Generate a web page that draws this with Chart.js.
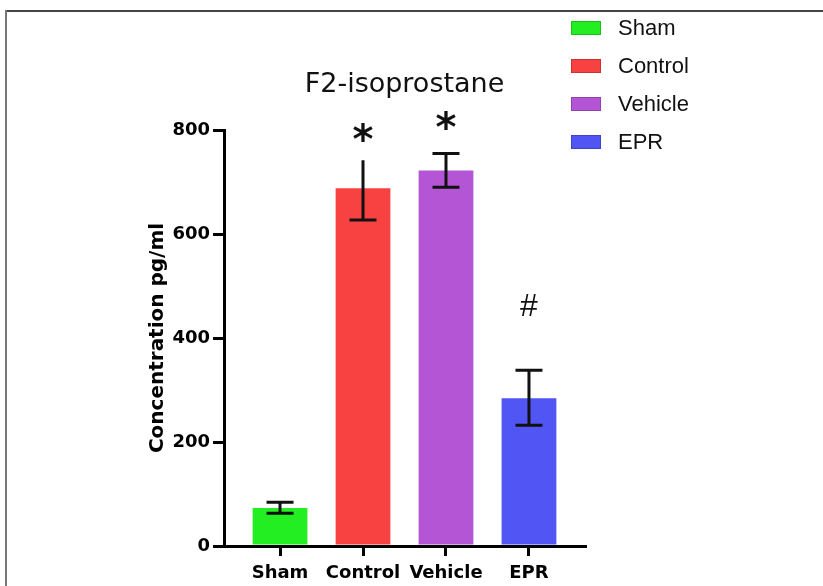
<!DOCTYPE html>
<html>
<head>
<meta charset="utf-8">
<script src="https://cdn.jsdelivr.net/npm/chart.js@4"></script>
<style>
  html, body { margin: 0; padding: 0; background: #fff; }
  #wrap { position: relative; width: 823px; height: 586px; }
</style>
</head>
<body>
<div id="wrap"><canvas id="isoChart" width="823" height="586"></canvas></div>
<script>
// data
const categories = ['Sham', 'Control', 'Vehicle', 'EPR'];
const means = [73, 688, 722, 284];
const errLow = [63, 627, 690, 232];
const errHigh = [84, 742, 755, 338];
const marks = ['', '*', '*', '#'];
const markAt = [null, 796, 819, 463];
const yTicks = [0, 200, 400, 600, 800];
const barColors = ['#22ee22', '#f84242', '#b455d6', '#5055f4'];

// thin frame round the figure (top + left edge only)
const frame = {
    id: 'frame',
    beforeDraw(chart) {
        const c = chart.ctx;
        c.save();
        c.fillStyle = '#fff';
        c.fillRect(0, 0, chart.width, chart.height);
        c.lineWidth = 2;
        c.strokeStyle = '#444';
        c.beginPath();
        c.moveTo(5, 11);
        c.lineTo(chart.width, 11);
        c.stroke();
        c.strokeStyle = '#777';
        c.beginPath();
        c.moveTo(6, 10);
        c.lineTo(6, chart.height);
        c.stroke();
        c.restore();
    }
};

// SEM whiskers, Control has no top cap in the original
const errorBars = {
    id: 'errorBars',
    afterDatasetsDraw(chart) {
        const c = chart.ctx;
        const ys = chart.scales.y;
        const meta = chart.getDatasetMeta(0);
        c.save();
        c.strokeStyle = '#111';
        c.lineWidth = 3;
        meta.data.forEach((bar, i) => {
            const x = bar.x;
            const top = ys.getPixelForValue(errHigh[i]);
            const bot = ys.getPixelForValue(errLow[i]);
            c.beginPath();
            c.moveTo(x, top);
            c.lineTo(x, bot);
            if (i !== 1) {
                c.moveTo(x - 13.5, top);
                c.lineTo(x + 13.5, top);
            }
            c.moveTo(x - 13.5, bot);
            c.lineTo(x + 13.5, bot);
            c.stroke();
        });
        c.restore();
    }
};

// significance marks above bars
const markers = {
    id: 'markers',
    afterDatasetsDraw(chart) {
        const c = chart.ctx;
        const ys = chart.scales.y;
        const meta = chart.getDatasetMeta(0);
        c.save();
        c.fillStyle = '#111';
        c.textAlign = 'center';
        c.textBaseline = 'alphabetic';
        marks.forEach((m, i) => {
            if (!m) return;
            c.font = m === '*' ? 'bold 40px "DejaVu Sans"' : '32px "Liberation Sans"';
            const tm = c.measureText(m);
            const cy = ys.getPixelForValue(markAt[i]);
            const base = cy + (tm.actualBoundingBoxAscent - tm.actualBoundingBoxDescent) / 2;
            c.fillText(m, meta.data[i].x, base);
        });
        c.restore();
    }
};

// legend sits inside the top-right corner, over the plot area
const legendBox = {
    id: 'legendBox',
    afterDraw(chart) {
        const c = chart.ctx;
        c.save();
        c.font = '22px "Liberation Sans"';
        c.textBaseline = 'middle';
        c.textAlign = 'left';
        categories.forEach((name, i) => {
            const y = 28 + i * 38;
            c.fillStyle = barColors[i];
            c.fillRect(571, y - 7, 30, 14);
            c.strokeStyle = 'rgba(0,0,0,0.2)';
            c.lineWidth = 1;
            c.strokeRect(571.5, y - 6.5, 29, 13);
            c.fillStyle = '#111';
            c.fillText(name, 618, y + 1);
        });
        c.restore();
    }
};

const ctx = document.getElementById('isoChart');

new Chart(ctx, {
    type: 'bar',
    data: {
        datasets: [{
            data: categories.map((c, i) => ({ x: i, y: means[i] })),
            backgroundColor: barColors,
            borderWidth: 0,
            barPercentage: 0.66,
            categoryPercentage: 1
        }]
    },
    options: {
        responsive: false,
        animation: false,
        layout: { padding: { left: 136, right: 238, top: 0, bottom: 0 } },
        plugins: {
            legend: { display: false },
            tooltip: { enabled: false },
            title: {
                display: true,
                fullSize: false,
                text: 'F2-isoprostane',
                color: '#111',
                font: { family: 'DejaVu Sans', size: 27, weight: 'normal' },
                padding: { top: 69, bottom: 28.6 }
            }
        },
        scales: {
            x: {
                type: 'linear',
                offset: false,
                min: -0.675,
                max: 3.675,
                afterBuildTicks: s => { s.ticks = categories.map((c, i) => ({ value: i })); },
                afterFit: s => { s.height = 40; },
                ticks: {
                    callback: v => categories[v],
                    color: '#000',
                    font: { family: 'DejaVu Sans', size: 18, weight: 'bold' },
                    padding: 7,
                    autoSkip: false,
                    maxRotation: 0
                },
                grid: { offset: false, drawOnChartArea: false, drawTicks: true, tickLength: 10, color: '#000', lineWidth: 3 },
                border: { color: '#000', width: 3 }
            },
            y: {
                min: 0,
                max: 800,
                afterBuildTicks: s => { s.ticks = yTicks.map(v => ({ value: v })); },
                afterFit: s => { s.width = 88; },
                ticks: {
                    color: '#000',
                    font: { family: 'DejaVu Sans', size: 18, weight: 'bold' },
                    padding: 3
                },
                grid: { drawOnChartArea: false, drawTicks: true, tickLength: 11, color: '#000', lineWidth: 3 },
                border: { color: '#000', width: 3 },
                title: {
                    display: true,
                    text: 'Concentration pg/ml',
                    color: '#000',
                    font: { family: 'DejaVu Sans', size: 20, weight: 'bold' },
                    padding: { top: 10, bottom: 0 }
                }
            }
        }
    },
    plugins: [frame, errorBars, markers, legendBox]
});
</script>
</body>
</html>
